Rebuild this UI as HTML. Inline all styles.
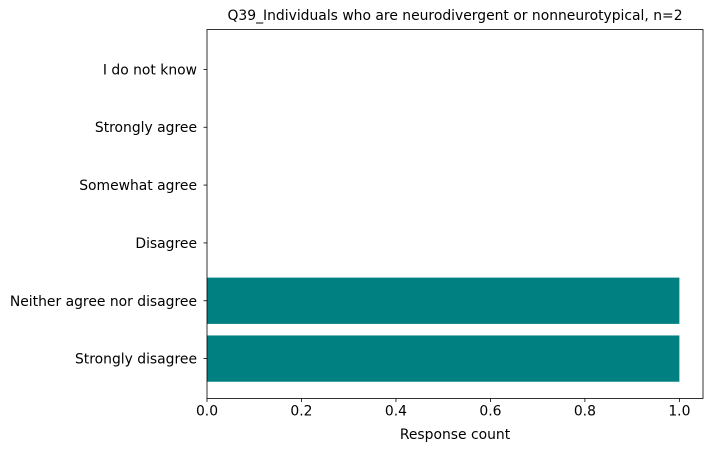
<!DOCTYPE html>
<html><head><meta charset="utf-8"><style>
body{margin:0;background:#fff;}
svg{display:block;font-family:"DejaVu Sans","Liberation Sans",sans-serif;}
</style></head><body>
<svg id="chart" width="712" height="452" viewBox="0 0 712 452"></svg>
<script>
const categories = ["Strongly disagree","Neither agree nor disagree","Disagree","Somewhat agree","Strongly agree","I do not know"];
const counts = [1,1,0,0,0,0];
const xTicks = [0,0.2,0.4,0.6,0.8,1.0];
const xTickLabels = ["0.0","0.2","0.4","0.6","0.8","1.0"];

const L=207,R=703,T=29.5,B=398.5;
const xMin=0,xMax=1.05;
const yMin=-0.69,yMax=5.69;
const FS=13.9;
const sx=v=>L+(v-xMin)/(xMax-xMin)*(R-L);
const sy=v=>B-(v-yMin)/(yMax-yMin)*(B-T);
const NS="http://www.w3.org/2000/svg";
const svg=document.getElementById('chart');
function mk(tag,attrs,parent){const e=document.createElementNS(NS,tag);for(const k in attrs)e.setAttribute(k,attrs[k]);(parent||svg).appendChild(e);return e;}

const title=mk('text',{x:(L+R)/2,y:20,'text-anchor':'middle','font-size':FS,fill:'#000'});


title.textContent="Q39_Individuals who are neurodivergent or nonneurotypical, n=2";

categories.forEach((c,i)=>{
  const y0=sy(i+0.4),y1=sy(i-0.4);
  if(counts[i]>0){
    const r=mk('rect',{x:sx(0),y:y0,width:sx(counts[i])-sx(0),height:y1-y0,fill:'#008080'});
    
    
  }
  const yc=sy(i);
  const tk=mk('line',{x1:L-3.5,x2:L,y1:yc,y2:yc,stroke:'#000','stroke-width':0.8});
  
  
  const t=mk('text',{x:L-10,y:yc+5,'text-anchor':'end','font-size':FS,fill:'#000'});
  
  
  t.textContent=c;
});

xTicks.forEach((v,i)=>{
  const x=sx(v);
  const tk=mk('line',{x1:x,x2:x,y1:B,y2:B+3.5,stroke:'#000','stroke-width':0.8});
  
  
  const t=mk('text',{x:x,y:B+17,'text-anchor':'middle','font-size':FS,fill:'#000'});
  
  
  t.textContent=xTickLabels[i];
});

const frame=mk('rect',{x:L,y:T,width:R-L,height:B-T,fill:'none',stroke:'#000','stroke-width':0.8});



const xl=mk('text',{x:(L+R)/2,y:439,'text-anchor':'middle','font-size':FS,fill:'#000'});


xl.textContent="Response count";
</script>
</body></html>
